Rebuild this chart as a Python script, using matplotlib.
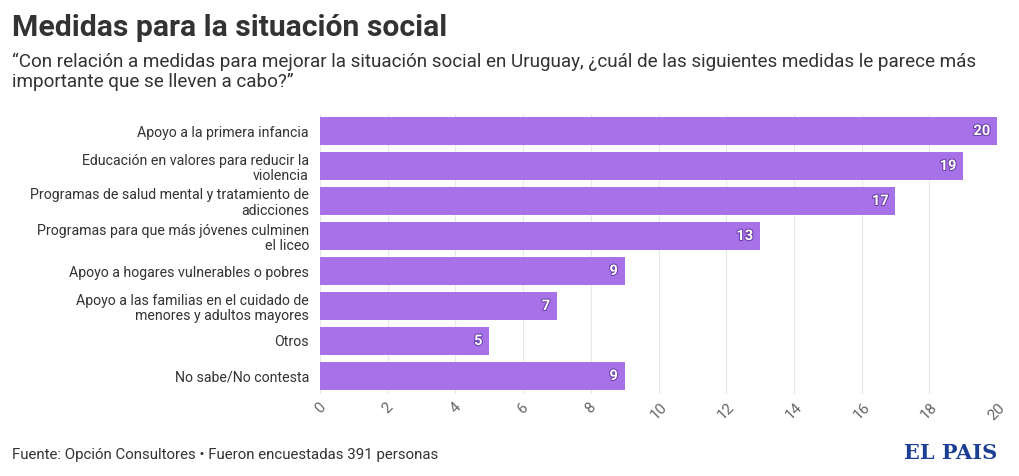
import matplotlib
matplotlib.use("Agg")
import matplotlib.pyplot as plt
import matplotlib.patheffects as pe

categories = [
    "Apoyo a la primera infancia",
    "Educación en valores para reducir la\nviolencia",
    "Programas de salud mental y tratamiento de\nadicciones",
    "Programas para que más jóvenes culminen\nel liceo",
    "Apoyo a hogares vulnerables o pobres",
    "Apoyo a las familias en el cuidado de\nmenores y adultos mayores",
    "Otros",
    "No sabe/No contesta",
]
values = [20, 19, 17, 13, 9, 7, 5, 9]
xticks = list(range(0, 21, 2))

plt.rcParams['font.family'] = ['Roboto', 'DejaVu Sans']
text_col = '#333333'
bar_col = '#a772e8'

fig = plt.figure(figsize=(10.2, 4.76), dpi=100)
ax = fig.add_axes([320/1020, 1-393.5/476, (997-320)/1020, (393.5-113.5)/476])

ypos = list(range(len(values)))
ax.barh(ypos, values, height=0.8, color=bar_col, zorder=2)
for y, v in zip(ypos, values):
    ax.text(v - 0.2, y, str(v), ha='right', va='center', color='white',
            fontsize=10.5, fontweight='bold', zorder=3,
            path_effects=[pe.withStroke(linewidth=1.5, foreground='#6a3fa8')])

ax.set_ylim(len(values) - 0.5, -0.5)
ax.set_xlim(0, 20)
ax.set_yticks(ypos)
ax.set_yticklabels(categories, fontsize=10.2, color=text_col, linespacing=1.15)
ax.set_xticks(xticks)
ax.set_xticklabels([str(t) for t in xticks], rotation=45, fontsize=11,
                   color='#666666', ha='center', va='top')
ax.tick_params(axis='y', length=0, pad=8)
ax.tick_params(axis='x', length=0, pad=5)
ax.grid(axis='x', color='#e8e8e8', linewidth=0.8, zorder=0)
for s in ax.spines.values():
    s.set_visible(False)
ax.axhline(len(values) - 0.5, color='#e8e8e8', linewidth=0.8, zorder=1)

fig.text(12/1020, 1-28/476, "Medidas para la situación social", fontsize=21.7,
         fontweight='bold', color=text_col, va='center')
fig.text(12/1020, 1-72/476,
         "“Con relación a medidas para mejorar la situación social en Uruguay, ¿cuál de las siguientes medidas le parece más\nimportante que se lleven a cabo?”",
         fontsize=13.6, color=text_col, va='center', linespacing=1.12)
fig.text(12/1020, 1-455/476,
         "Fuente: Opción Consultores • Fueron encuestadas 391 personas",
         fontsize=10.8, color=text_col, va='center')
fig.text(997/1020, 1-453/476, "EL PAIS", fontsize=15, fontweight='bold',
         family='DejaVu Serif', color='#1c3f94', ha='right', va='center')

fig.savefig("out.png", dpi=100)
